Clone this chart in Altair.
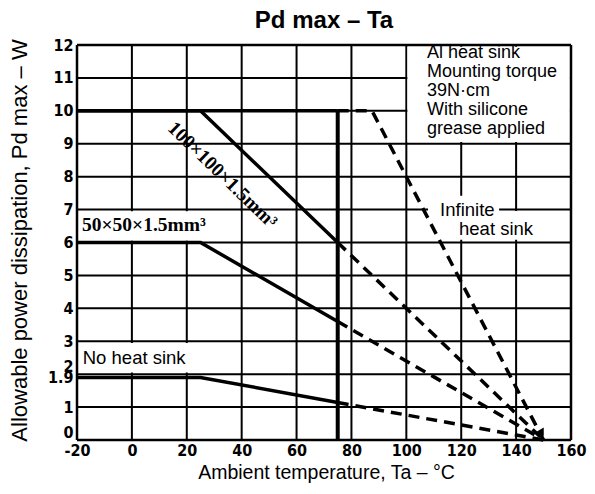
import altair as alt
import pandas as pd

# ---- data ----
ta_ticks = [-20, 0, 20, 40, 60, 80, 100, 120, 140, 160]
pd_ticks = [0, 1, 1.9, 2, 3, 4, 5, 6, 7, 8, 9, 10, 11, 12]
ta_grid = [0, 20, 40, 60, 80, 100, 120, 140]
pd_grid = [1, 2, 3, 4, 5, 6, 7, 8, 9, 10, 11]
frame_ta = [-20, 160]
frame_pd = [0, 12]

series = ["Infinite heat sink", "100×100×1.5mm³", "50×50×1.5mm³", "No heat sink"]
solid_ta = [[-20, 75], [-20, 25, 75], [-20, 25, 75], [-20, 25, 75]]
solid_pd = [[10, 10], [10, 10, 6.0], [6, 6, 3.6], [1.9, 1.9, 1.14]]
dash_ta = [[75, 87.5, 150], [75, 150], [75, 150], [75, 150]]
dash_pd = [[10, 10, 0], [6.0, 0], [3.6, 0], [1.14, 0]]

limit_ta = [75, 75]
limit_pd = [0, 10]

arrow_ta = [149.2]
arrow_pd = [0.25]

title_text = "Pd max – Ta"
title_ta = 70
title_pd = 12.73

note_lines = ["Al heat sink", "Mounting torque", "39N·cm", "With silicone", "grease applied"]
note_ta = [107.5, 107.5, 107.5, 107.5, 107.5]
note_pd = [11.76, 11.19, 10.61, 10.03, 9.45]

sans_labels = ["No heat sink", "Infinite", "heat sink"]
sans_ta = [-17.9, 112.3, 119.2]
sans_pd = [2.49, 6.99, 6.41]

serif_labels = ["50×50×1.5mm³", "100×100×1.5mm³"]
serif_ta = [-18.2, 33.0]
serif_pd = [6.53, 8.05]

box_ta = [100.4, -19.6, -19.6, 107.9, 117.0]
box_ta2 = [159.6, 39.6, 39.6, 133.8, 146.5]
box_pd = [9.05, 6.05, 2.05, 6.63, 6.08]
box_pd2 = [11.95, 6.95, 2.95, 7.42, 6.96]

# ---- tables ----
def seg_frame(tas, pds):
    rows = []
    for s, xs, ys in zip(series, tas, pds):
        for i, (a, b) in enumerate(zip(xs, ys)):
            rows.append({"series": s, "ta": a, "pd": b, "order": i})
    return pd.DataFrame(rows)

solid_df = seg_frame(solid_ta, solid_pd)
dash_df = seg_frame(dash_ta, dash_pd)
limit_df = pd.DataFrame({"ta": limit_ta, "pd": limit_pd})
arrow_df = pd.DataFrame({"ta": arrow_ta, "pd": arrow_pd})
title_df = pd.DataFrame({"text": [title_text], "ta": [title_ta], "pd": [title_pd]})
note_df = pd.DataFrame({"text": note_lines, "ta": note_ta, "pd": note_pd})
sans_df = pd.DataFrame({"text": sans_labels, "ta": sans_ta, "pd": sans_pd})
serif_df = pd.DataFrame({"text": serif_labels, "ta": serif_ta, "pd": serif_pd})
box_df = pd.DataFrame({"ta": box_ta, "ta2": box_ta2, "pd": box_pd, "pd2": box_pd2})
vgrid_df = pd.DataFrame({"ta": ta_grid})
hgrid_df = pd.DataFrame({"pd": pd_grid})
vframe_df = pd.DataFrame({"ta": frame_ta})
hframe_df = pd.DataFrame({"pd": frame_pd})

xscale = alt.Scale(domain=[-20, 160], nice=False, zero=False)
yscale = alt.Scale(domain=[0, 12], nice=False)

tick_font = "DejaVu Sans Condensed, Liberation Sans Narrow, sans-serif"

x_axis = alt.Axis(
    values=ta_ticks, title="Ambient temperature, Ta – °C",
    labelExpr="datum.value < 0 ? '-' + abs(datum.value) : '' + datum.value",
    labelFont=tick_font, labelFontWeight="bold", labelFontSize=16, labelColor="black",
    labelPadding=2, ticks=False, domain=False, grid=False, labelOverlap=False,
    labelFlush=False,
    titleFont="Liberation Sans", titleFontSize=19.5, titleFontWeight="normal",
    titleColor="black", titleX=249, titleY=38, titleBaseline="alphabetic",
    titleAnchor="middle", titleAlign="center",
)
y_axis = alt.Axis(
    values=pd_ticks, title="Allowable power dissipation, Pd max – W",
    labelExpr="'' + datum.value",
    labelFont=tick_font, labelFontWeight="bold", labelFontSize=16, labelColor="black",
    labelPadding=4, ticks=False, domain=False, grid=False, labelOverlap=False,
    labelFlush=False,
    labelBaseline=alt.condition("datum.value == 2 || datum.value == 0",
                                alt.value("bottom"), alt.value("middle")),
    titleFont="Liberation Sans", titleFontSize=22, titleFontWeight="normal",
    titleColor="black", titleX=-58, titleY=195, titleAngle=-90,
    titleAlign="center", titleBaseline="middle",
)

X = lambda: alt.X("ta:Q", scale=xscale, axis=x_axis)
Y = lambda: alt.Y("pd:Q", scale=yscale, axis=y_axis)

vgrid = alt.Chart(vgrid_df).mark_rule(color="black", strokeWidth=2).encode(x=X())
hgrid = alt.Chart(hgrid_df).mark_rule(color="black", strokeWidth=2).encode(y=Y())

boxes = alt.Chart(box_df).mark_rect(color="white", opacity=1).encode(
    x=X(), x2="ta2:Q", y=Y(), y2="pd2:Q",
)

vframe = alt.Chart(vframe_df).mark_rule(color="black", strokeWidth=2.5).encode(x=X())
hframe = alt.Chart(hframe_df).mark_rule(color="black", strokeWidth=2.5).encode(y=Y())

solid = alt.Chart(solid_df).mark_line(color="black", strokeWidth=3.5,
                                      strokeCap="butt").encode(
    x=X(), y=Y(), detail="series:N", order="order:Q",
)

dashed = alt.Chart(dash_df).mark_line(color="black", strokeWidth=3.5,
                                      strokeDash=[11, 7]).encode(
    x=X(), y=Y(), detail="series:N", order="order:Q",
)

limit = alt.Chart(limit_df).mark_line(color="black", strokeWidth=4).encode(
    x=X(), y=Y(),
)

arrow = alt.Chart(arrow_df).mark_point(shape="triangle", filled=True, size=70,
                                       angle=150, color="black", opacity=1).encode(
    x=X(), y=Y(),
)

title = alt.Chart(title_df).mark_text(
    font="Liberation Sans", fontSize=24, fontWeight="bold", align="center",
    baseline="middle", color="black",
).encode(x=X(), y=Y(), text="text:N")

notes = alt.Chart(note_df).mark_text(
    font="Liberation Sans", fontSize=18, align="left", baseline="middle",
    color="black",
).encode(x=X(), y=Y(), text="text:N")

sans = alt.Chart(sans_df).mark_text(
    font="Liberation Sans", fontSize=18.5, align="left", baseline="middle",
    color="black",
).encode(x=X(), y=Y(), text="text:N")

serif_flat = alt.Chart(serif_df.iloc[[0]]).mark_text(
    font="Liberation Serif", fontSize=19.5, fontWeight="bold", align="left",
    baseline="middle", color="black",
).encode(x=X(), y=Y(), text="text:N")

serif_rot = alt.Chart(serif_df.iloc[[1]]).mark_text(
    font="Liberation Serif", fontSize=19.5, fontWeight="bold", align="center",
    baseline="middle", color="black", angle=44,
).encode(x=X(), y=Y(), text="text:N")

chart = alt.layer(
    vgrid, hgrid, boxes, vframe, hframe, solid, dashed, limit, arrow,
    title, notes, sans, serif_flat, serif_rot
).properties(
    width=494, height=395,
    padding={"left": 69, "top": 37, "right": 16, "bottom": 46},
    autosize=alt.AutoSizeParams(type="none"),
).configure_view(
    stroke="black", strokeWidth=2.5, clip=False,
).configure(background="white")

chart.save("out.html", embed_options={"renderer": "svg", "actions": False})
